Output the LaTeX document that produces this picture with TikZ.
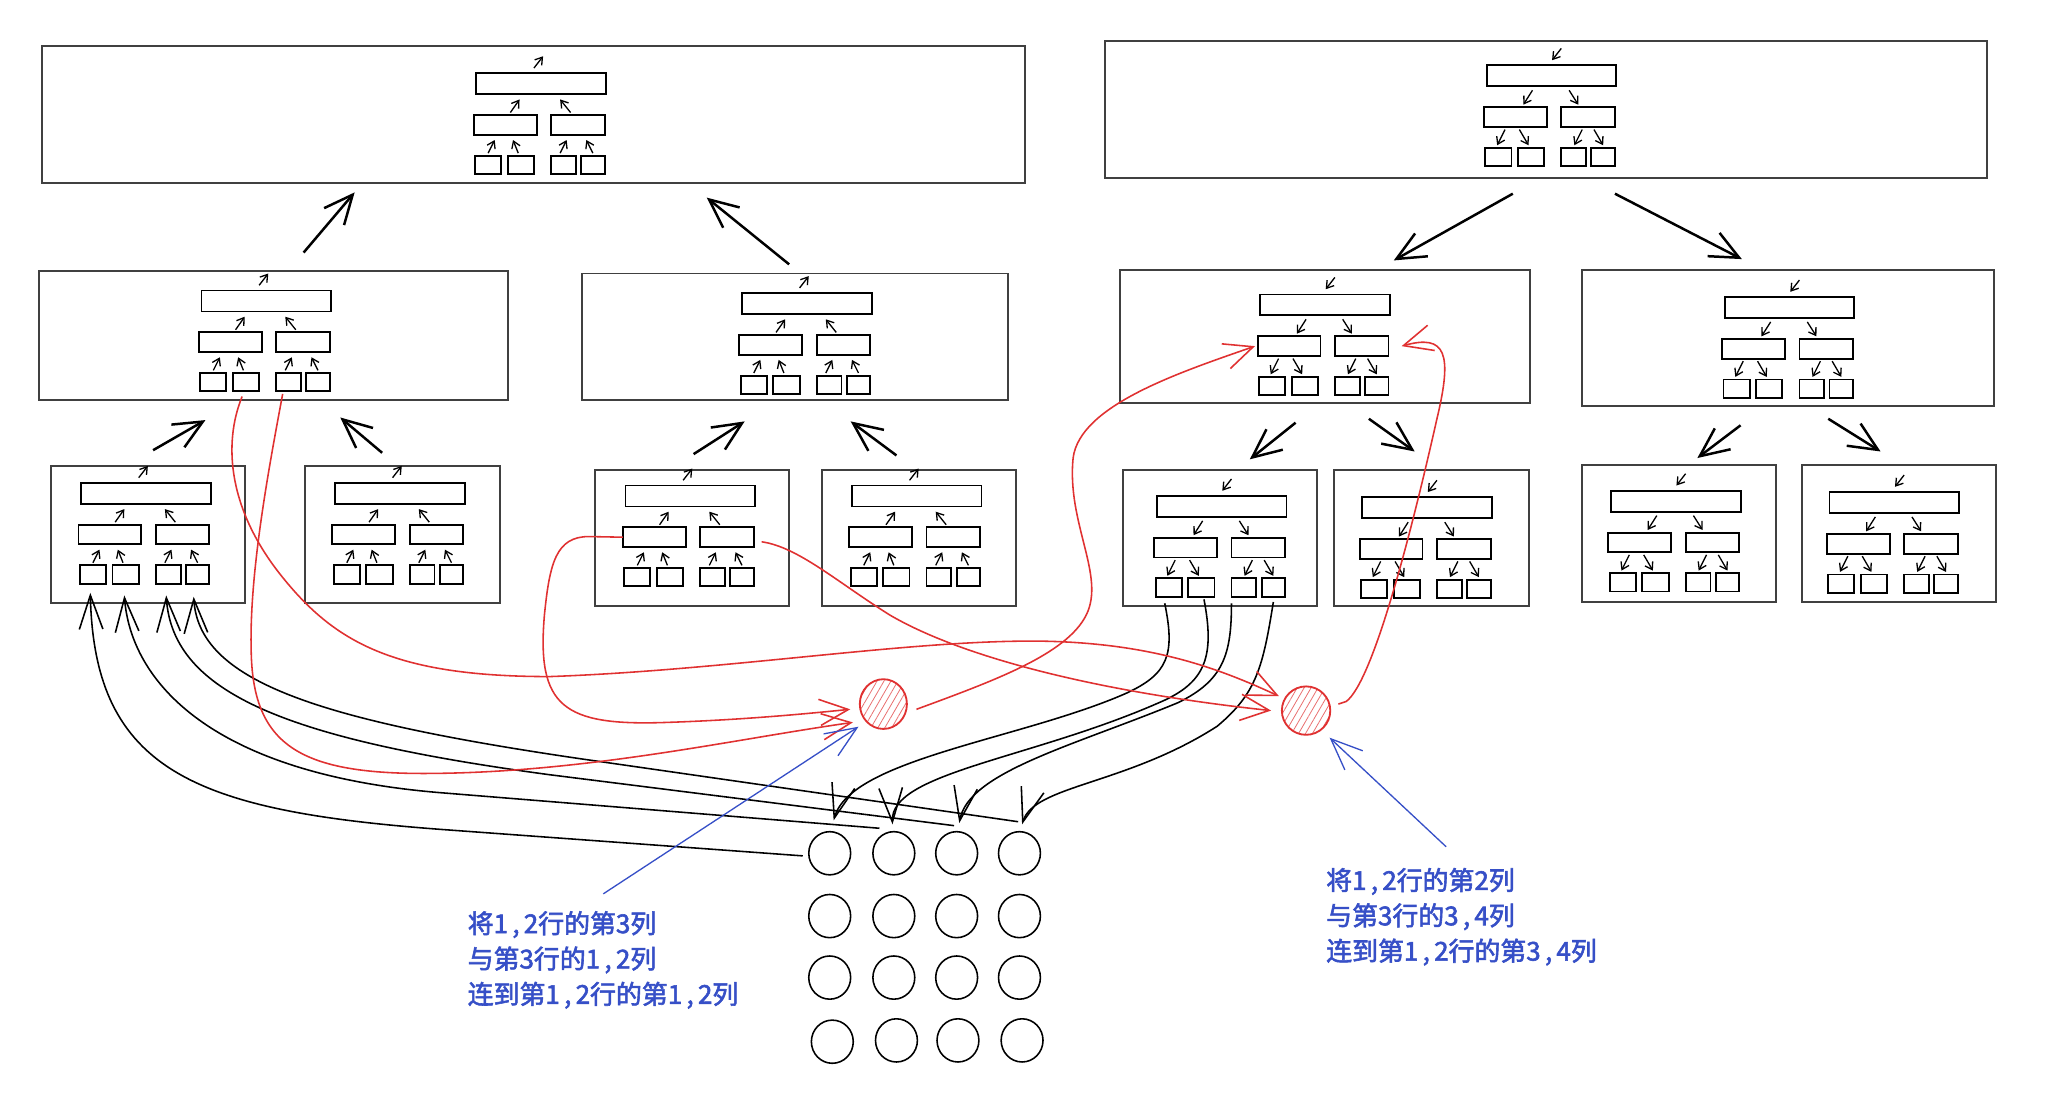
\documentclass[tikz,border=0pt]{standalone}
\usepackage{fontspec}
\newfontfamily\cjk[FakeBold=2.2]{Noto Sans CJK SC}
\usetikzlibrary{arrows.meta,calc,fit,shapes.geometric,patterns.meta}
\definecolor{redc}{RGB}{224,49,49}
\definecolor{bluec}{RGB}{54,79,199}
\newcommand\treebody{%
  \node[rs,minimum width=49.5pt,minimum height=8pt] (-t) at (49.5,8) {};
  \node[rs,minimum width=24pt,minimum height=7.5pt] (-ml) at (22,39.5) {};
  \node[rs,minimum width=20.5pt,minimum height=7.5pt] (-mr) at (77.5,39.5) {};
  \node[rs,minimum width=10pt,minimum height=7pt] (-s1) at (9,70) {};
  \node[rs,minimum width=10pt,minimum height=7pt] (-s2) at (34,70) {};
  \node[rs,minimum width=9.5pt,minimum height=7pt] (-s3) at (66.5,70) {};
  \node[rs,minimum width=9pt,minimum height=7pt] (-s4) at (89,70) {};
}
\tikzset{
  rs/.style={draw=black,line width=0.72pt,inner sep=0pt,outer sep=0pt},
  bxs/.style={draw=black!75,line width=0.75pt,inner sep=0pt,outer sep=0pt},
  ta/.style={draw=black,line width=0.5pt,-{Straight Barb[length=2.6pt,width=3.4pt]}},
  bigarr/.style={draw=black,line width=0.95pt,-{Straight Barb[length=11pt,width=10pt]}},
  ca/.style={draw=black,line width=0.6pt,-{Straight Barb[length=13pt,width=9pt]}},
  ra/.style={draw=redc,line width=0.6pt,-{Straight Barb[length=11pt,width=10pt]}},
  ba/.style={draw=bluec,line width=0.5pt,-{Straight Barb[length=12pt,width=10pt]}},
  gc/.style={draw=black,ellipse,line width=0.6pt,minimum width=16pt,minimum height=16.5pt,inner sep=0pt},
  rc/.style={draw=redc,ellipse,line width=0.7pt,inner sep=0pt,pattern={Lines[angle=60,distance=2.3pt,line width=0.3pt]},pattern color=redc!70},
  lbl/.style={text=bluec,font=\cjk\fontsize{9.9pt}{12pt}\selectfont,inner sep=0pt,anchor=base west},
  treeup/.pic={\treebody
    \draw[ta] (44,-4) -- (51,-13);
    \draw[ta] (26,30) -- (33,20);
    \draw[ta] (72,30) -- (64,20);
    \draw[ta] (9,61) -- (14,51);
    \draw[ta] (32,61) -- (28,51);
    \draw[ta] (64,61) -- (69,51);
    \draw[ta] (89,61) -- (84,51);},
  treedown/.pic={\treebody
    \draw[ta] (57,-13) -- (50,-4);
    \draw[ta] (35,19) -- (28,30);
    \draw[ta] (63,19) -- (70,30);
    \draw[ta] (14,49) -- (8,61);
    \draw[ta] (25,49) -- (32,61);
    \draw[ta] (73,49) -- (67,61);
    \draw[ta] (82,49) -- (89,61);}
}
\begin{document}
\begin{tikzpicture}[x=0.5pt,y=-0.5pt]
\fill[white] (0,0) rectangle (1568,844);
\useasboundingbox (0,0) rectangle (1568,844);
% ---------- boxes ----------
\node[bxs,fit={(32,35)(783,140)}] (A) {};
\node[bxs,fit={(30,207)(388,306)}] (B) {};
\node[bxs,fit={(445,209)(770,306)}] (B2) {};
\node[bxs,fit={(39,356)(187,461)}] (C1) {};
\node[bxs,fit={(233,356)(382,461)}] (C2) {};
\node[bxs,fit={(455,359)(603,463)}] (C3) {};
\node[bxs,fit={(628,359)(776,463)}] (C4) {};
\node[bxs,fit={(844,31)(1518,136)}] (D) {};
\node[bxs,fit={(856,206)(1169,308)}] (E) {};
\node[bxs,fit={(1209,206)(1524,310)}] (E2) {};
\node[bxs,fit={(858,359)(1006,463)}] (F1) {};
\node[bxs,fit={(1019,359)(1168,463)}] (F2) {};
\node[bxs,fit={(1209,355)(1357,460)}] (F3) {};
\node[bxs,fit={(1377,355)(1525,460)}] (F4) {};
% ---------- trees ----------
\pic (tA) at (364,56) {treeup};
\pic (tB) at (154,222) {treeup};
\pic (tB2) at (567,224) {treeup};
\pic (tC1) at (62,369) {treeup};
\pic (tC2) at (256,369) {treeup};
\pic (tC3) at (478,371) {treeup};
\pic (tC4) at (651,371) {treeup};
\pic (tD) at (1136,50) {treedown};
\pic (tE) at (963,225) {treedown};
\pic (tE2) at (1318,227) {treedown};
\pic (tF1) at (884,379) {treedown};
\pic (tF2) at (1041,380) {treedown};
\pic (tF3) at (1231,375) {treedown};
\pic (tF4) at (1398,376) {treedown};
% ---------- big arrows ----------
\draw[bigarr] ($(B.north)+(23,-14)$) -- ($(A.south)+(-136.5,7)$);
\draw[bigarr] ($(B2.north)+(-4.5,-7)$) -- ($(A.south)+(132.5,11)$);
\draw[bigarr] ($(C1.north)+(4,-12)$) -- ($(B.south)+(-52,15)$);
\draw[bigarr] ($(C2.north)+(-15.5,-10)$) -- ($(B.south)+(51,13)$);
\draw[bigarr] ($(C3.north)+(1,-12)$) -- ($(B2.south)+(-38.5,16)$);
\draw[bigarr] ($(C4.north)+(-17,-11)$) -- ($(B2.south)+(42.5,16)$);
\draw[bigarr] ($(D.south)+(-25,12)$) -- ($(E.north)+(52.5,-7)$);
\draw[bigarr] ($(D.south)+(53,12)$) -- ($(E2.north)+(-35.5,-8)$);
\draw[bigarr] ($(E.south)+(-22.5,15)$) -- ($(F1.north)+(23,-8)$);
\draw[bigarr] ($(E.south)+(33.5,12)$) -- ($(F2.north)+(-12.5,-14)$);
\draw[bigarr] ($(E2.south)+(-36.5,15)$) -- ($(F3.north)+(14,-5)$);
\draw[bigarr] ($(E2.south)+(30.5,10)$) -- ($(F4.north)+(-14,-10)$);
% ---------- grid ----------
\foreach \r/\y in {1/652,2/700,3/747}
  \foreach \c/\x in {1/634,2/683,3/731,4/779}
    \node[gc] (g\r\c) at (\x,\y) {};
\node[gc] (g41) at (636,796) {};
\node[gc] (g42) at (685,795) {};
\node[gc] (g43) at (732,795) {};
\node[gc] (g44) at (781,795) {};
% ---------- red circles ----------
\node[rc,minimum width=18pt,minimum height=19pt] (R1) at (675,538) {};
\node[rc,minimum width=18.5pt,minimum height=18.5pt] (R2) at (998,543) {};
% ---------- black curves grid -> C1 ----------
\draw[ca] ($(g11.west)+(-4,2)$) -- (340,634) .. controls (150,620) and (72,590) .. ($(tC1-s1.south)+(-2,7)$);
\draw[ca] ($(g12.north)+(-11,-2)$) -- (340,606) .. controls (160,592) and (100,520) .. ($(tC1-s2.south)+(-1,9)$);
\draw[ca] ($(g13.north)+(-2,-4)$) -- (420,592) .. controls (220,565) and (132,530) .. ($(tC1-s3.south)+(-1.5,9)$);
\draw[ca] ($(g14.north)+(-1,-7)$) -- (445,580) .. controls (240,550) and (152,520) .. ($(tC1-s4.south)+(-3,10)$);
% ---------- black curves F1 -> grid ----------
\draw[ca] ($(tF1-s1.south)+(-3,5)$) .. controls (898,500) and (893,515) .. (860,530) .. controls (780,565) and (650,580) .. ($(g11.north)+(3,-8)$);
\draw[ca] ($(tF1-s2.south)+(2,2)$) .. controls (928,500) and (922,520) .. (890,535) .. controls (790,580) and (680,590) .. ($(g12.north)+(-1,-5)$);
\draw[ca] ($(tF1-s3.south)+(-9.5,5)$) .. controls (941,500) and (935,520) .. (900,537) .. controls (820,570) and (740,590) .. ($(g13.north)+(2,-6)$);
\draw[ca] ($(tF1-s4.south)+(0,4)$) .. controls (965,510) and (960,530) .. (930,555) .. controls (860,600) and (790,600) .. ($(g14.north)+(2,-5)$);
% ---------- red curves ----------
\draw[ra] ($(tB-s2.south)+(-3,4)$) .. controls (170,340) and (175,390) .. (215,440) .. controls (255,490) and (300,517) .. (420,517) .. controls (560,512) and (700,488) .. (800,490) .. controls (880,492) and (930,510) .. ($(R2.west)+(-1.5,-11)$);
\draw[ra] ($(tB-s3.south)+(-4.5,2)$) .. controls (205,360) and (190,440) .. (192,500) .. controls (194,570) and (230,592) .. (330,591) .. controls (450,590) and (560,565) .. ($(R1.west)+(-5,14)$);
\draw[ra] (tC3-ml.west) -- (450,410) .. controls (425,410) and (420,430) .. (416,470) .. controls (410,540) and (430,555) .. (510,552) .. controls (570,550) and (620,545) .. ($(R1.west)+(-7,4)$);
\draw[ra] ($(tC3-mr.east)+(6,3.5)$) .. controls (610,418) and (640,445) .. (680,470) .. controls (740,505) and (850,530) .. ($(R2.west)+(-7.5,0)$);
\draw[ra] ($(R1.east)+(7,4)$) .. controls (760,520) and (815,500) .. (830,470) .. controls (845,440) and (815,400) .. (820,350) .. controls (825,310) and (900,285) .. ($(tE-ml.west)+(-2,0)$);
\draw[ra] ($(R2.east)+(5.5,-5)$) -- ++(6,-2) .. controls (1050,520) and (1080,400) .. (1098,320) .. controls (1110,270) and (1105,255) .. ($(tE-mr.east)+(10,0)$);
% ---------- labels ----------
\node[lbl] (l1a) at (357,713) {将1\,,\,2行的第3列};
\node[lbl] (l1b) at (357,740) {与第3行的1\,,\,2列};
\node[lbl] (l1c) at (357,767) {连到第1\,,\,2行的第1\,,\,2列};
\node[lbl] (l2a) at (1013,680) {将1\,,\,2行的第2列};
\node[lbl] (l2b) at (1013,707) {与第3行的3\,,\,4列};
\node[lbl] (l2c) at (1013,734) {连到第1\,,\,2行的第3\,,\,4列};
% ---------- blue arrows ----------
\coordinate (b1s) at (461,683);
\coordinate (b2s) at (1105,647);
\draw[ba] (b1s) -- ($(R1.south)+(-19,-2)$);
\draw[ba] (b2s) -- ($(R2.south)+(18,1.5)$);
\end{tikzpicture}
\end{document}
